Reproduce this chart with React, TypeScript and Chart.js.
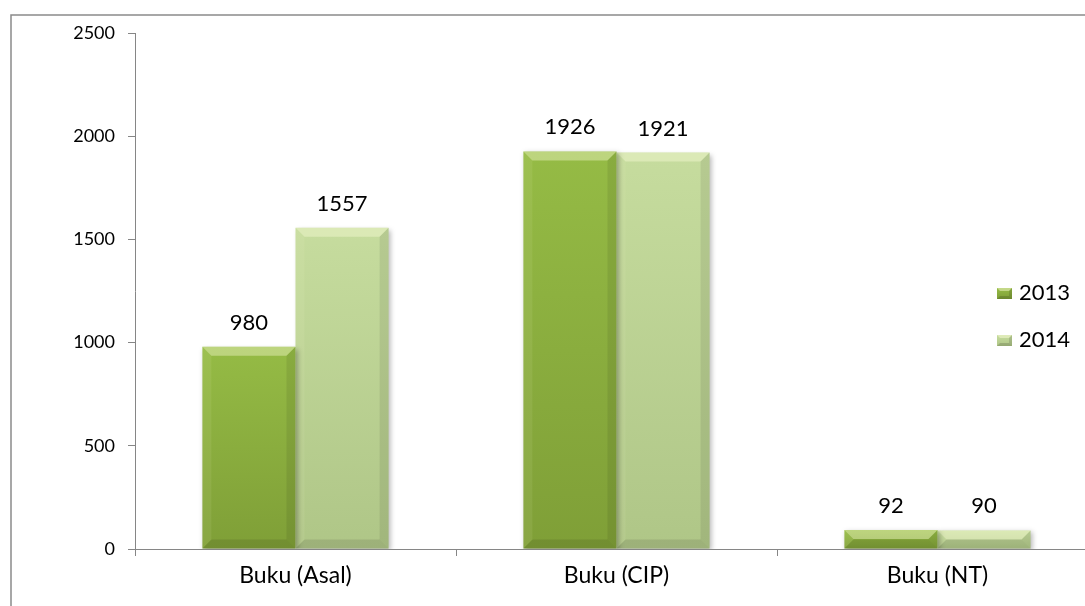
import React, { useEffect, useRef } from "react";
import { Chart, registerables } from "chart.js";

Chart.register(...registerables);

const categories = ["Buku (Asal)", "Buku (CIP)", "Buku (NT)"];
const seriesNames = ["2013", "2014"];
const values2013 = [980, 1926, 92];
const values2014 = [1557, 1921, 90];
const yMin = 0;
const yMax = 2500;
const yStep = 500;

const FONT = "Lato, 'Open Sans', sans-serif";

const faceColors = [
  ["#95bb45", "#7f9f37"],
  ["#c6dc9e", "#afc687"],
];

function drawBevel(ctx: CanvasRenderingContext2D, l: number, t: number, r: number, b: number) {
  const s = Math.max(0, Math.min(9, (b - t) / 2, (r - l) / 2));
  const poly = (pts: number[][], color: string) => {
    ctx.beginPath();
    ctx.moveTo(pts[0][0], pts[0][1]);
    for (let i = 1; i < pts.length; i++) ctx.lineTo(pts[i][0], pts[i][1]);
    ctx.closePath();
    ctx.fillStyle = color;
    ctx.fill();
  };
  poly([[l, t], [r, t], [r - s, t + s], [l + s, t + s]], "rgba(255,255,220,0.38)");
  poly([[l, t], [l + s, t + s], [l + s, b - s], [l, b]], "rgba(255,255,220,0.08)");
  poly([[r, t], [r, b], [r - s, b - s], [r - s, t + s]], "rgba(0,0,0,0.08)");
  poly([[l, b], [r, b], [r - s, b - s], [l + s, b - s]], "rgba(0,0,0,0.10)");
}

const shadowPlugin = {
  id: "barShadow",
  beforeDatasetDraw(chart: any) {
    const ctx = chart.ctx;
    ctx.save();
    ctx.shadowColor = "rgba(0,0,0,0.28)";
    ctx.shadowBlur = 5;
    ctx.shadowOffsetX = 2;
    ctx.shadowOffsetY = 2;
  },
  afterDatasetDraw(chart: any, args: any) {
    const ctx = chart.ctx;
    ctx.restore();
    const meta = args.meta;
    meta.data.forEach((el: any) => {
      const p = el.getProps(["x", "y", "base", "width"], true);
      if (![p.x, p.y, p.base, p.width].every(Number.isFinite)) return;
      const l = p.x - p.width / 2;
      const r = p.x + p.width / 2;
      const t = Math.min(p.y, p.base);
      const b = Math.max(p.y, p.base);
      ctx.save();
      drawBevel(ctx, l, t, r, b);
      ctx.restore();
    });
  },
};

const labelPlugin = {
  id: "valueLabels",
  afterDatasetsDraw(chart: any) {
    const ctx = chart.ctx;
    ctx.save();
    ctx.font = `22px ${FONT}`;
    ctx.fillStyle = "#000";
    ctx.textAlign = "center";
    ctx.textBaseline = "alphabetic";
    chart.data.datasets.forEach((ds: any, di: number) => {
      const meta = chart.getDatasetMeta(di);
      meta.data.forEach((el: any, i: number) => {
        const p = el.getProps(["x", "y"], true);
        ctx.fillText(String(ds.data[i]), p.x, p.y - 17);
      });
    });
    ctx.restore();
  },
};

const framePlugin = {
  id: "frameAndLegend",
  afterDraw(chart: any) {
    const ctx = chart.ctx;
    ctx.save();
    ctx.strokeStyle = "#8a8a8a";
    ctx.lineWidth = 1.5;
    ctx.strokeRect(11, 15, chart.width + 40, chart.height + 40);
    const rows = [292, 339];
    chart.data.datasets.forEach((ds: any, di: number) => {
      const cy = rows[di];
      const l = 997, r = 1012, t = cy - 4, b = cy + 7;
      const g = ctx.createLinearGradient(0, t, 0, b);
      g.addColorStop(0, faceColors[di][0]);
      g.addColorStop(1, faceColors[di][1]);
      ctx.fillStyle = g;
      ctx.fillRect(l, t, r - l, b - t);
      const s = 3;
      const poly = (pts: number[][], color: string) => {
        ctx.beginPath();
        ctx.moveTo(pts[0][0], pts[0][1]);
        for (let i = 1; i < pts.length; i++) ctx.lineTo(pts[i][0], pts[i][1]);
        ctx.closePath();
        ctx.fillStyle = color;
        ctx.fill();
      };
      poly([[l, t], [r, t], [r - s, t + s], [l + s, t + s]], "rgba(255,255,220,0.45)");
      poly([[r, t], [r, b], [r - s, b - s], [r - s, t + s]], "rgba(0,0,0,0.12)");
      poly([[l, b], [r, b], [r - s, b - s], [l + s, b - s]], "rgba(0,0,0,0.15)");
      ctx.font = `22px ${FONT}`;
      ctx.fillStyle = "#000";
      ctx.textAlign = "left";
      ctx.textBaseline = "middle";
      ctx.fillText(ds.label, 1019, cy + 1);
    });
    ctx.restore();
  },
};

function gradientFor(di: number) {
  return (context: any) => {
    const chart = context.chart;
    const area = chart.chartArea;
    const yScale = chart.scales && chart.scales.y;
    if (!area || !yScale) return faceColors[di][0];
    let top = area.top;
    if (context.raw !== undefined) {
      const py = yScale.getPixelForValue(context.raw);
      if (Number.isFinite(py)) top = py;
    }
    const bottom = area.bottom;
    if (!Number.isFinite(top) || !Number.isFinite(bottom) || top === bottom) return faceColors[di][0];
    const g = chart.ctx.createLinearGradient(0, top, 0, bottom);
    g.addColorStop(0, faceColors[di][0]);
    g.addColorStop(1, faceColors[di][1]);
    return g;
  };
}

export default function App() {
  const ref = useRef<HTMLCanvasElement | null>(null);
  useEffect(() => {
    if (!ref.current) return;
    const chart = new Chart(ref.current, {
      type: "bar",
      data: {
        labels: categories,
        datasets: [
          { label: seriesNames[0], data: values2013, backgroundColor: gradientFor(0), borderWidth: 0 },
          { label: seriesNames[1], data: values2014, backgroundColor: gradientFor(1), borderWidth: 0 },
        ],
      },
      options: {
        responsive: false,
        animation: false,
        devicePixelRatio: 1,
        layout: { padding: { left: 0, top: 33, right: 12, bottom: 0 } },
        datasets: { bar: { barPercentage: 1, categoryPercentage: 0.58 } },
        plugins: { legend: { display: false }, tooltip: { enabled: false } },
        scales: {
          x: {
            grid: { drawOnChartArea: false, drawTicks: true, tickLength: 7, color: "#868686", offset: true },
            border: { color: "#868686", width: 1 },
            ticks: { color: "#000", font: { family: FONT, size: 23 }, padding: 6 },
            afterFit: (s: any) => { s.height = 57; },
          },
          y: {
            min: yMin,
            max: yMax,
            grid: { drawOnChartArea: false, drawTicks: true, tickLength: 7, color: "#868686" },
            border: { color: "#868686", width: 1 },
            ticks: {
              stepSize: yStep,
              color: "#000",
              font: { family: FONT, size: 18 },
              padding: 13,
              callback: (v: any) => String(v),
            },
            afterFit: (s: any) => { s.width = 135; },
          },
        },
      },
      plugins: [shadowPlugin, labelPlugin, framePlugin],
    });
    return () => chart.destroy();
  }, []);
  return (
    <div style={{ position: "fixed", left: 0, top: 0, width: 1085, height: 606, overflow: "hidden", background: "#fff" }}>
      <canvas ref={ref} width={1110} height={606} style={{ display: "block" }} />
    </div>
  );
}
